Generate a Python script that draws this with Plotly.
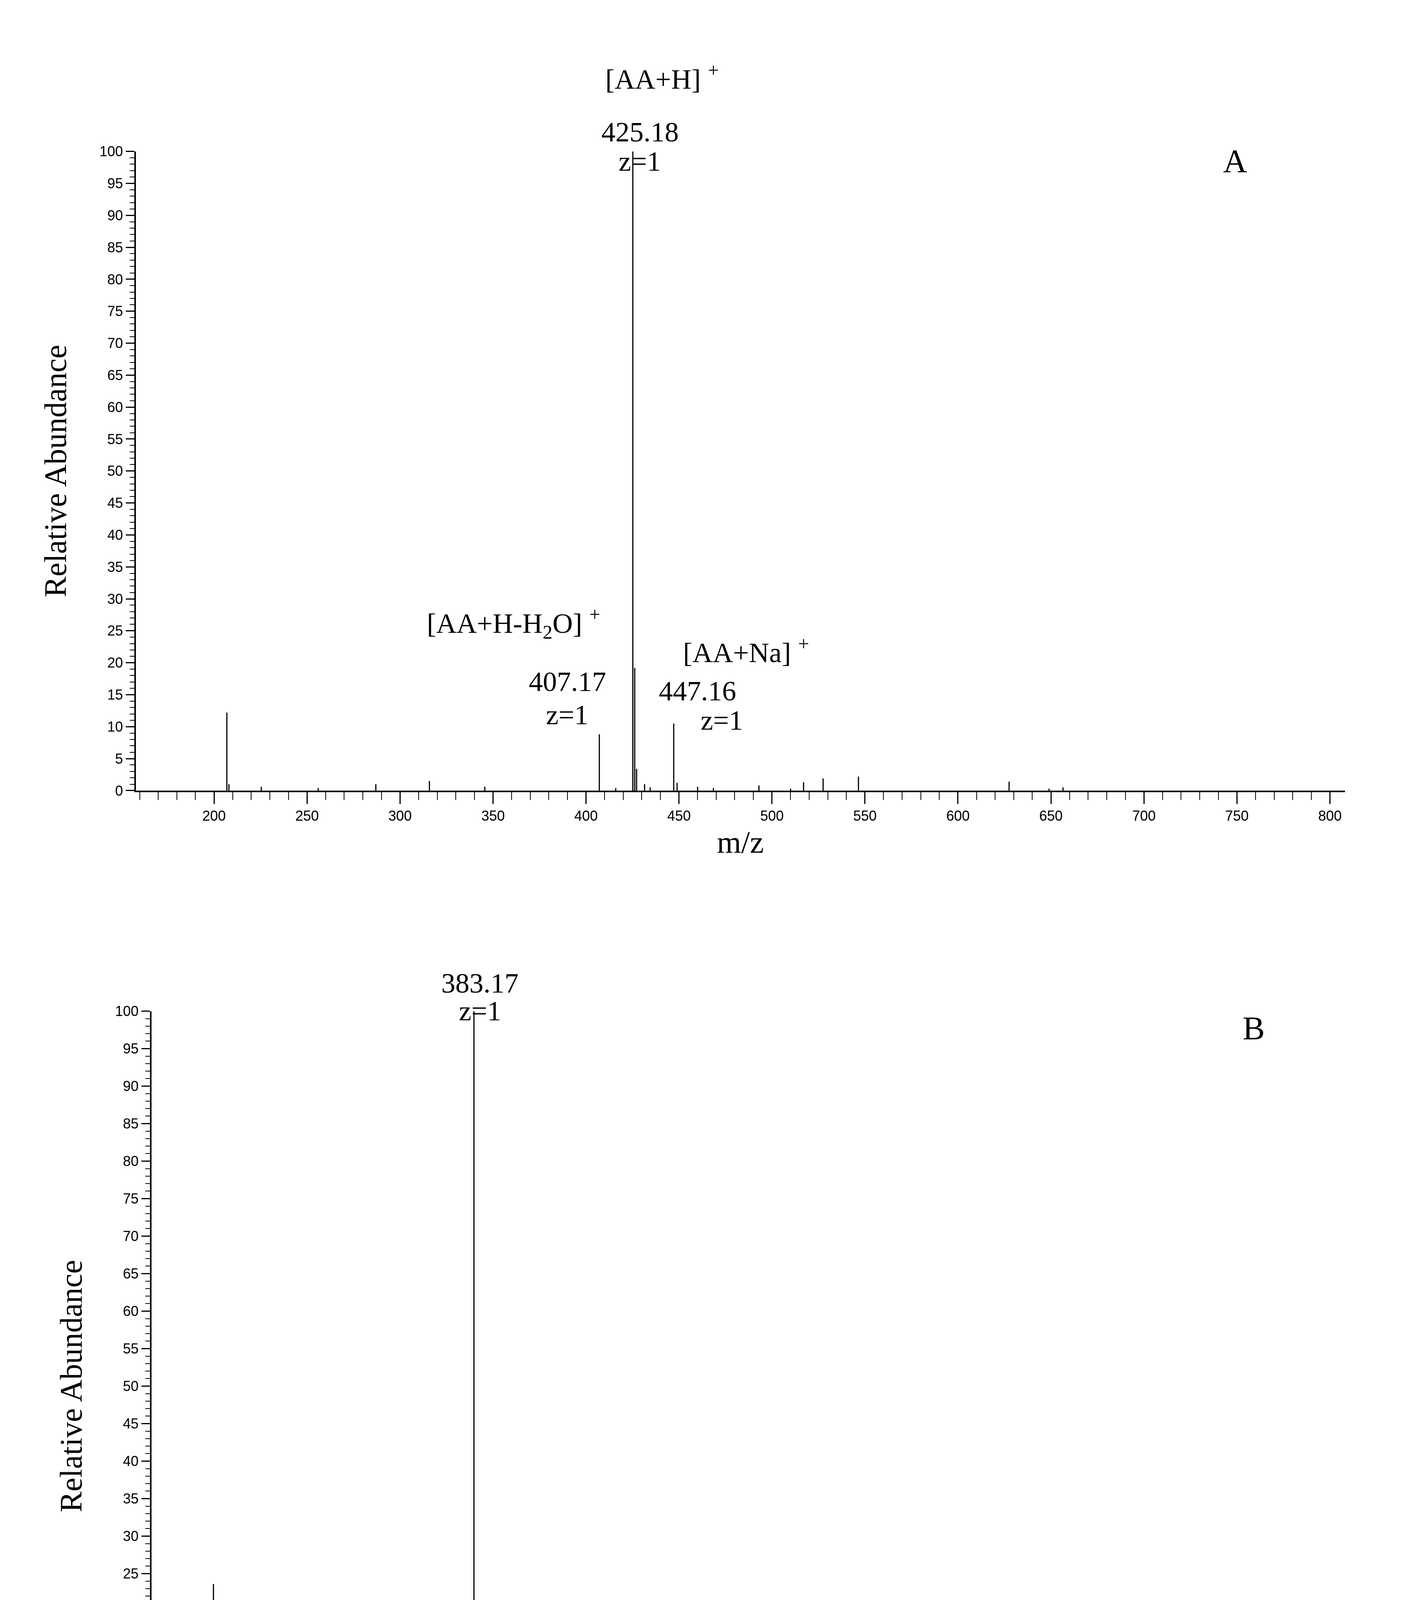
import plotly.graph_objects as go

# Panel A peaks (m/z, relative abundance)
mz_a = [206.9, 208.0, 225.4, 256.0, 287.0, 315.8, 345.6, 407.17, 416.0, 425.18, 426.2, 427.2,
        431.5, 434.5, 447.16, 449.0, 460.0, 468.5, 493.0, 510.0, 517.0, 527.5, 546.5, 627.5, 649.0, 656.5]
ab_a = [12.2, 1.0, 0.6, 0.4, 1.0, 1.5, 0.6, 8.8, 0.4, 100.0, 19.2, 3.4,
        1.0, 0.5, 10.5, 1.2, 0.6, 0.4, 0.8, 0.3, 1.3, 1.9, 2.2, 1.4, 0.3, 0.5]

# Panel B peaks
mz_b = [162.5, 169.4, 173.4, 181.0, 186.0, 190.0, 194.8, 196.0, 199.4, 201.7, 204.0, 205.8, 208.7, 211.0,
        231.2, 256.6, 257.7, 279.7, 284.3, 308.5, 312.6, 338.6, 342.0, 365.1, 366.3, 383.17, 384.2, 385.2,
        392.0, 402.6, 405.5, 411.3, 428.0, 487.0, 532.6, 585.7]
ab_b = [0.5, 2.3, 8.1, 0.6, 0.3, 0.3, 23.6, 2.6, 1.8, 2.4, 18.0, 1.6, 3.1, 0.5,
        0.7, 1.2, 0.7, 0.8, 0.6, 5.6, 1.5, 0.4, 0.3, 6.4, 1.0, 100.0, 16.5, 2.8,
        0.3, 0.4, 1.0, 0.8, 0.7, 1.4, 0.8, 0.1]

SERIF = "Liberation Serif, Times New Roman, serif"
NARROW = "Liberation Sans Narrow, Arial Narrow, Liberation Sans, sans-serif"


def sticks(mz, ab):
    xs, ys = [], []
    for m, a in zip(mz, ab):
        xs += [m, m, None]
        ys += [0, a, None]
    return xs, ys


fig = go.Figure()
xa, ya = sticks(mz_a, ab_a)
xb, yb = sticks(mz_b, ab_b)
fig.add_trace(go.Scatter(x=xa, y=ya, mode="lines", line=dict(color="black", width=3),
                         xaxis="x", yaxis="y", showlegend=False, cliponaxis=False))
fig.add_trace(go.Scatter(x=xb, y=yb, mode="lines", line=dict(color="black", width=3),
                         xaxis="x2", yaxis="y2", showlegend=False, cliponaxis=False))

common_x = dict(showline=True, linecolor="black", linewidth=4, ticks="outside", ticklen=30,
                tickwidth=3, tickcolor="black", showgrid=False, zeroline=False,
                tickfont=dict(family=NARROW, size=36, color="black"),
                title=dict(text="m/z", font=dict(family=SERIF, size=80, color="black")))
common_y = dict(showline=True, linecolor="black", linewidth=4, ticks="outside", ticklen=22,
                tickwidth=3, tickcolor="black", showgrid=False, zeroline=False,
                range=[0, 100], dtick=5, tick0=0,
                minor=dict(dtick=1, ticks="outside", ticklen=12, tickcolor="black", tickwidth=2),
                tickfont=dict(family=NARROW, size=36, color="black"),
                title=dict(text="Relative Abundance", font=dict(family=SERIF, size=80, color="black"),
                           standoff=60))

fig.update_layout(
    width=3631, height=4774, paper_bgcolor="white", plot_bgcolor="white",
    margin=dict(l=0, r=0, t=0, b=0),
    xaxis=dict(common_x, domain=[0.0947, 0.9567], anchor="y", range=[158, 808], dtick=50,
               minor=dict(dtick=10, ticks="outside", ticklen=20, tickcolor="black", tickwidth=2)),
    yaxis=dict(common_y, domain=[0.5783, 0.924], anchor="x"),
    xaxis2=dict(common_x, domain=[0.1058, 0.944], anchor="y2", range=[150, 1000], dtick=100,
                minor=dict(dtick=5, ticks="outside", ticklen=18, tickcolor="black", tickwidth=2)),
    yaxis2=dict(common_y, domain=[0.0534, 0.459], anchor="x2"),
)
fig.layout.xaxis.title.standoff = 20
fig.layout.xaxis2.title.standoff = 80

ann_font = dict(family=SERIF, size=72, color="black")
notes_a = [
    ("[AA+H] <sup>+</sup>", 441, 114.5),
    ("425.18", 429, 105.6),
    ("z=1", 429, 101.0),
    ("[AA+H-H<sub>2</sub>O] <sup>+</sup>", 361, 23.0),
    ("407.17", 390, 14.5),
    ("z=1", 390, 9.3),
    ("[AA+Na] <sup>+</sup>", 486, 19.0),
    ("447.16", 460, 13.0),
    ("z=1", 473, 8.4),
]
# y given in percent; placed via the axis domain so labels above 100 stay visible
for t, x, y in notes_a:
    fig.add_annotation(text=t, x=x, y=y / 100, xref="x", yref="y domain", showarrow=False, font=ann_font)
fig.add_annotation(text="A", x=749, y=1.015, xref="x", yref="y domain", showarrow=False,
                   font=dict(family=SERIF, size=85, color="black"))

notes_b = [("383.17", 387.6, 105.9), ("z=1", 387.6, 102.2)]
for t, x, y in notes_b:
    fig.add_annotation(text=t, x=x, y=y / 100, xref="x2", yref="y2 domain", showarrow=False, font=ann_font)
fig.add_annotation(text="B", x=947, y=1.003, xref="x2", yref="y2 domain", showarrow=False,
                   font=dict(family=SERIF, size=85, color="black"))

fig.write_html("out.html")
